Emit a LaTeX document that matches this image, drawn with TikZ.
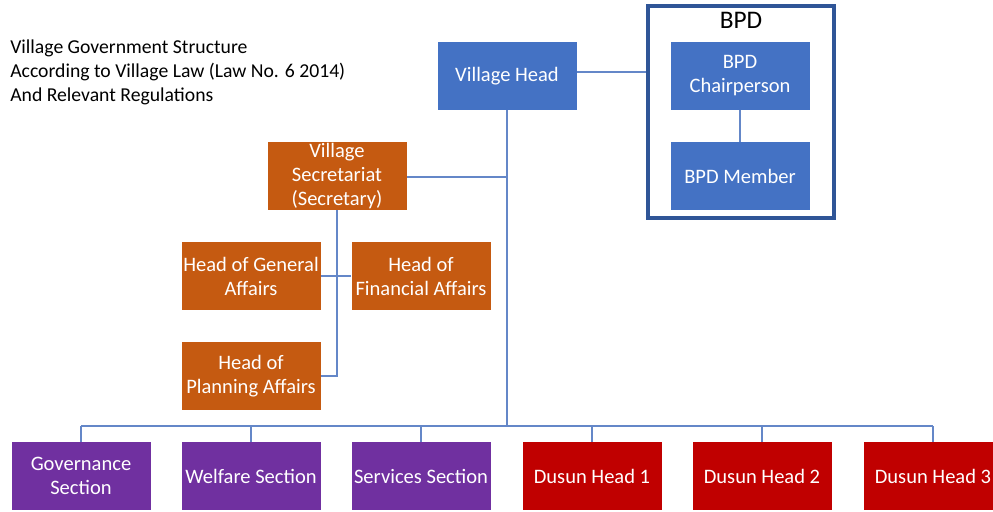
\documentclass[tikz,border=0pt]{standalone}
\usepackage{fontspec}
\setmainfont{Carlito}
\usepackage{xcolor}
\usetikzlibrary{positioning}
\definecolor{headblue}{RGB}{68,114,196}
\definecolor{framblue}{RGB}{47,85,151}
\definecolor{secorange}{RGB}{197,90,17}
\definecolor{secpurple}{RGB}{112,48,160}
\definecolor{dusunred}{RGB}{192,0,0}
\definecolor{linkblue}{RGB}{100,135,200}

\begin{document}
\begin{tikzpicture}[
x=0.025cm, y=-0.025cm,
font=\fontsize{14}{17}\selectfont,
unit/.style={minimum width=139*0.025cm, minimum height=68*0.025cm, inner sep=1pt, align=center, text=white, font=\fontsize{14.6}{17}\selectfont},
head/.style={unit, fill=headblue},
office/.style={unit, fill=secorange},
section/.style={unit, fill=secpurple},
dusun/.style={unit, fill=dusunred},
link/.style={draw=linkblue, line width=0.8pt}
]
\useasboundingbox (0,0) rectangle (993,512);
\clip (0,0) rectangle (993,512);

% title text
\node[anchor=west, align=left, inner sep=0pt] (title) at (10,72)
  {Village Government Structure\\According to Village Law (Law No. 6 2014)\\And Relevant Regulations};

% top level
\node[head] (vhead) at (507,76) {Village Head};
\node[draw=framblue, line width=2.2pt, minimum width=186*0.025cm, minimum height=212*0.025cm] (bpd) at (741,112) {};
\node[font=\fontsize{18}{20}\selectfont] (bpdlabel) at (741,20) {BPD};
\node[head] (chair) at (740,76) {BPD\\Chairperson};
\node[head] (member) at (740,176) {BPD Member};

% secretariat
\node[office] (secr) at (337,176) {Village\\Secretariat\\(Secretary)};
\node[office] (general) at (251,276) {Head of General\\Affairs};
\node[office] (finance) at (421,276) {Head of\\Financial Affairs};
\node[office] (planning) at (251,376) {Head of\\Planning Affairs};

% bottom row
\node[section] (gov) at (81,476) {Governance\\Section};
\node[section] (welfare) at (251,476) {Welfare Section};
\node[section] (services) at (421,476) {Services Section};
\node[dusun] (dusun1) at (592,476) {Dusun Head 1};
\node[dusun] (dusun2) at (762,476) {Dusun Head 2};
\node[dusun] (dusun3) at (933,476) {Dusun Head 3};

\coordinate (bus) at (507,426);
\coordinate (sectap) at (507,177);

% connectors
\draw[link] (vhead.east |- 0,72) -- (bpd.west |- 0,72);
\draw[link] (chair) -- (member);
\draw[link] (vhead) -- (bus);
\draw[link] (secr.east |- sectap) -- (sectap);
\draw[link] (secr.south) |- (planning.east);
\draw[link] (general.east) -- (finance.west);
\foreach \n in {gov,welfare,services,dusun1,dusun2,dusun3}
  \draw[link] (\n.north) -- (\n.north |- bus);
\draw[link] (gov.north |- bus) -- (dusun3.north |- bus);
\end{tikzpicture}
\end{document}
